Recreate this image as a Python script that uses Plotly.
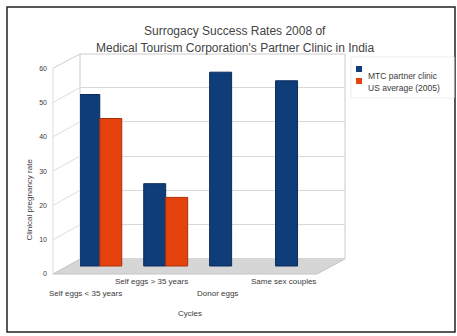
import plotly.graph_objects as go

categories = ["Self eggs &lt; 35 years", "Self eggs &gt; 35 years", "Donor eggs", "Same sex couples"]
mtc_values = [50, 24, 56.5, 54]
us_values = [43, 20, None, None]
series_names = ["MTC partner clinic", "US average (2005)"]
y_ticks = [0, 10, 20, 30, 40, 50, 60]

BLUE = "#0f3d7a"
RED = "#e5420d"
FONT = "Liberation Sans"
TXT = "#3a3a3a"

# pixel geometry helpers (plot area x 80..345, y 54..276)
PX0, PX1, PY0, PY1 = 80, 345, 54, 276
S = 3.43  # px per unit


def px(x):
    return (x - PX0) / (PX1 - PX0)


def py(y):
    return (PY1 - y) / (PY1 - PY0)


idx = list(range(len(categories)))

fig = go.Figure()
fig.add_trace(go.Bar(x=idx, y=mtc_values, name=series_names[0], showlegend=False,
                     marker=dict(color=BLUE, line=dict(color="#0a2c5a", width=1))))
fig.add_trace(go.Bar(x=idx, y=us_values, name=series_names[1], showlegend=False,
                     marker=dict(color=RED, line=dict(color="#a83008", width=1))))

h = PY1 - PY0
b0 = -(PY1 - 266) / S   # bars axis: 0 at y=266
l0 = -(PY1 - 274) / S   # labels axis: 0 at y=274
g0 = -(PY1 - 259) / S   # back-wall grid axis: 0 at y=259

shapes = []
# outer frame
shapes.append(dict(type="rect", xref="paper", yref="paper",
                   x0=px(7), x1=px(455), y0=py(332), y1=py(7),
                   line=dict(color="#222", width=1.5), layer="below"))
# back wall
shapes.append(dict(type="rect", xref="paper", yref="paper",
                   x0=px(80), x1=px(345), y0=py(259), y1=py(54),
                   line=dict(color="#cccccc", width=1), layer="below"))
# left wall edges
shapes.append(dict(type="line", xref="paper", yref="paper",
                   x0=px(53), y0=py(274 - 60 * S), x1=px(80), y1=py(54),
                   line=dict(color="#cccccc", width=1), layer="below"))
for v in y_ticks[1:-1]:
    shapes.append(dict(type="line", xref="paper", yref="y2",
                       x0=px(53), y0=v, x1=0, y1=v + 15 / S,
                       line=dict(color="#dddddd", width=1), layer="below"))
shapes.append(dict(type="line", xref="paper", yref="paper",
                   x0=px(53), y0=py(274), x1=px(53), y1=py(274 - 60 * S),
                   line=dict(color="#dddddd", width=1), layer="below"))
# floor
shapes.append(dict(type="path", xref="paper", yref="paper",
                   path=f"M {px(53)} {py(274)} L {px(80)} {py(259)} L {px(345)} {py(259)} "
                        f"L {px(317)} {py(274)} Z",
                   fillcolor="#d6d6d6", line=dict(color="#c4c4c4", width=1), layer="between"))
# legend box + swatches
shapes.append(dict(type="rect", xref="paper", yref="paper",
                   x0=px(351), x1=px(454), y0=py(98), y1=py(57),
                   line=dict(color="#eeeeee", width=1), layer="below"))
for k, (col, ly) in enumerate([(BLUE, 69), (RED, 81)]):
    shapes.append(dict(type="rect", xref="paper", yref="paper",
                       x0=px(356), x1=px(362), y0=py(ly + 3), y1=py(ly - 3),
                       fillcolor=col, line=dict(width=0)))

annotations = []
for name, ly in zip(series_names, [69, 81]):
    annotations.append(dict(x=px(366), xref="paper", y=py(ly), yref="paper", text=name,
                            xanchor="left", showarrow=False,
                            font=dict(size=8.5, color=TXT, family=FONT)))
# category labels, staggered
label_y = [300, 288, 300, 288]
for i, (c, ly) in enumerate(zip(categories, label_y)):
    annotations.append(dict(x=i, xref="x", y=py(ly), yref="paper", text=c,
                            showarrow=False, xshift=-14,
                            font=dict(size=8, color=TXT, family=FONT)))
annotations.append(dict(x=px(190), xref="paper", y=py(320), yref="paper", text="Cycles",
                        showarrow=False, font=dict(size=8, color=TXT, family=FONT)))
annotations.append(dict(x=px(22), xref="paper", y=py(200), yref="paper",
                        text="Clinical pregnancy rate", textangle=-90,
                        showarrow=False, font=dict(size=8, color=TXT, family=FONT)))
annotations.append(dict(x=px(235), xref="paper", y=py(22), yref="paper",
                        text="Surrogacy Success Rates 2008 of", showarrow=False,
                        font=dict(size=12, color="#444", family=FONT)))
annotations.append(dict(x=px(235), xref="paper", y=py(39), yref="paper",
                        text="Medical Tourism Corporation's Partner Clinic in India",
                        showarrow=False, font=dict(size=12, color="#444", family=FONT)))

fig.update_layout(
    template="none",
    width=457, height=336,
    margin=dict(l=PX0, r=457 - PX1, t=PY0, b=336 - PY1, autoexpand=False),
    paper_bgcolor="white", plot_bgcolor="rgba(0,0,0,0)",
    barmode="group", bargap=1 / 3, bargroupgap=0,
    font=dict(family=FONT, size=7, color=TXT),
    showlegend=False,
    xaxis=dict(range=[-0.3, 3.72], showticklabels=False, showgrid=False,
               zeroline=False, showline=False, ticks=""),
    yaxis=dict(range=[b0, b0 + h / S], showgrid=False, zeroline=False,
               showticklabels=False, showline=False, ticks=""),
    yaxis2=dict(range=[l0, l0 + h / S], overlaying="y", side="left",
                tickvals=y_ticks, showgrid=False, zeroline=False, showline=False,
                ticks="", ticklabelstandoff=32, tickfont=dict(size=7, color=TXT)),
    yaxis3=dict(range=[g0, g0 + h / S], overlaying="y", side="left",
                dtick=10, showgrid=True, gridcolor="#d8d8d8", gridwidth=1,
                zeroline=False, showline=False, ticks="", showticklabels=False),
    shapes=shapes,
    annotations=annotations,
)
# invisible helper traces so the overlay axes render
fig.add_trace(go.Scatter(x=[0], y=[0], yaxis="y2", mode="markers",
                         marker=dict(opacity=0), showlegend=False, hoverinfo="skip"))
fig.add_trace(go.Scatter(x=[0], y=[0], yaxis="y3", mode="markers",
                         marker=dict(opacity=0), showlegend=False, hoverinfo="skip"))

fig.write_html("out.html")
